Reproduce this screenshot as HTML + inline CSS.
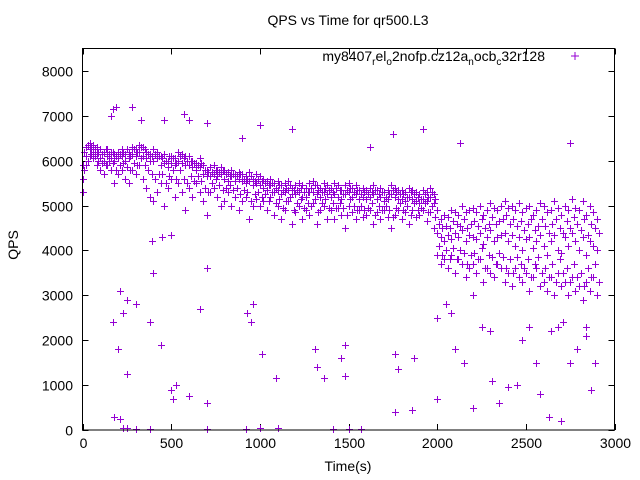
<!DOCTYPE html>
<html><head><meta charset="utf-8"><style>
body{margin:0;background:#fff}
svg{display:block;font-family:"Liberation Sans",sans-serif}
</style></head><body>
<svg id="chart" width="640" height="480" viewBox="0 0 640 480">
<rect width="640" height="480" fill="#fff"/>
<text x="348" y="25" font-size="14" text-anchor="middle">QPS vs Time for qr500.L3</text>
<text x="348" y="471" font-size="14" text-anchor="middle">Time(s)</text>
<text transform="translate(18,245) rotate(-90)" font-size="14" text-anchor="middle">QPS</text>
<g id="axes"></g>
<g id="points"></g>
<g>
<text x="545" y="61" font-size="14" text-anchor="end">my8407<tspan font-size="10" dy="4">r</tspan><tspan dy="-4">el</tspan><tspan font-size="10" dy="4">o</tspan><tspan dy="-4">2nofp.cz12a</tspan><tspan font-size="10" dy="4">n</tspan><tspan dy="-4">ocb</tspan><tspan font-size="10" dy="4">c</tspan><tspan dy="-4">32r128</tspan></text>
<path d="M571 56h8M575 52v8" stroke="#9400d3" stroke-width="1"/>
</g>
<rect x="82.5" y="48.5" width="532" height="381.5" fill="none" stroke="#000"/>
</svg>
<script>
const xTicks=[0,500,1000,1500,2000,2500,3000];
const yTicks=[0,1000,2000,3000,4000,5000,6000,7000,8000];
const step=20;
const qpsUpper=[5900,6300,6400,6350,6300,6250,6200,6250,6200,6150,
6200,6250,6150,6200,6300,6250,6350,6300,6200,6150,
6250,6200,6100,6150,6000,6100,6050,6200,6150,6100,
6100,6000,5950,6050,5900,5800,5850,5900,5800,5850,
5800,5750,5800,5700,5750,5700,5650,5750,5600,5700,
5650,5600,5550,5600,5500,5550,5450,5500,5550,5400,
5450,5500,5450,5400,5500,5550,5450,5400,5500,5450,
5400,5500,5450,5350,5450,5500,5400,5450,5350,5400,
5350,5400,5450,5350,5400,5300,5350,5450,5400,5350,
5350,5300,5400,5350,5300,5250,5350,5300,5400,5250,
4900,4700,4800,4750,4900,4850,4800,5000,4850,4900,
4950,4850,5000,4800,4900,5050,4950,4900,5000,5100,
4950,5000,4900,5050,4850,4950,5000,4800,4900,5050,
5000,4850,4900,5100,4950,4800,5000,4900,5150,4950,
4900,5100,4800,5000,4850,4700];
const qpsUpperMid=[6200,6350,6300,6250,6200,6150,6250,6150,6200,6100,
6150,6200,6250,6100,6250,6200,6300,6250,6150,6100,
6150,6100,6050,6000,6100,6050,5950,6100,6050,6000,
6000,5950,5900,5950,5800,5750,5750,5800,5750,5800,
5700,5650,5700,5650,5700,5600,5600,5650,5550,5600,
5550,5500,5450,5500,5400,5450,5350,5400,5450,5350,
5350,5400,5300,5300,5400,5450,5350,5300,5400,5350,
5300,5400,5350,5250,5350,5400,5300,5350,5250,5300,
5250,5300,5350,5250,5300,5200,5250,5350,5300,5250,
5250,5200,5300,5250,5200,5150,5250,5200,5300,5150,
4600,4500,4550,4500,4650,4600,4550,4700,4500,4600,
4650,4550,4700,4500,4600,4750,4600,4650,4700,4800,
4600,4700,4550,4650,4450,4600,4700,4450,4550,4700,
4550,4400,4600,4700,4500,4400,4650,4500,4750,4600,
4450,4700,4350,4600,4500,4400];
const qpsMiddle=[5600,6100,6250,6200,6150,6050,6000,6100,6050,6000,
6050,6100,6000,6050,6150,6100,6200,6100,6050,6000,
6000,6050,5900,5950,5850,5950,5900,6000,5950,5900,
5900,5850,5800,5850,5700,5650,5650,5700,5650,5700,
5600,5550,5650,5550,5600,5550,5500,5550,5450,5500,
5450,5400,5350,5450,5300,5350,5250,5300,5350,5250,
5250,5300,5200,5200,5300,5300,5250,5200,5300,5250,
5200,5250,5200,5150,5250,5300,5200,5250,5150,5200,
5150,5200,5250,5150,5200,5100,5150,5250,5200,5150,
5150,5100,5200,5150,5100,5050,5150,5100,5200,5050,
4400,4300,4200,4350,4250,4400,4300,4450,4200,4350,
4300,4250,4400,4150,4300,4450,4200,4300,4350,4400,
4200,4350,4100,4300,4000,4250,4300,4050,4200,4350,
4100,3900,4200,4350,4000,3950,4300,4100,4400,4200,
4000,4300,3900,4200,4100,4000];
const qpsLowerMid=[5800,6000,6150,6100,6000,5950,5900,6000,5950,5800,
5900,5950,5850,5800,5950,5900,6050,5900,5800,5700,
5600,5700,5700,5500,5650,5800,5600,5800,5600,5500,
5650,5550,5650,5550,5400,5300,5500,5600,5450,5350,
5400,5450,5350,5400,5250,5350,5300,5100,5250,5300,
5200,5250,5100,5300,5050,5150,4950,5100,5200,4900,
5050,5150,4950,5050,5000,5150,4850,5050,5150,4950,
5050,4950,5050,4950,4800,5150,5000,4900,5000,4900,
4950,5050,4800,5000,4900,5000,4900,4750,4950,5050,
4900,5000,4800,5050,4900,4950,5050,4850,5000,4750,
4100,3900,4000,3800,4050,3800,4000,3950,3700,3900,
3950,3800,4050,3600,3900,3850,3700,3950,3850,3600,
3800,3500,3850,3700,3600,3800,3400,3700,3850,3500,
3600,3400,3700,3300,3800,3500,3600,3300,3700,3400,
3500,3200,3600,3400,3700,3300];
const qpsLower=[5300,5900,6100,6050,5900,5800,5700,5900,5800,5500,
5700,5800,5600,5500,5800,5700,5900,5600,5400,5200,
5100,5300,5500,5000,5400,5600,5200,5500,5300,4900,
5400,5200,5500,5300,5100,4800,5300,5400,5200,5000,
5100,5300,5000,5200,4900,5100,5200,4700,5000,5150,
5000,5100,4900,5200,4800,5000,4700,4900,5100,4600,
4850,5000,4700,4900,4800,5050,4600,4900,5000,4700,
4900,4700,4950,4800,4500,5000,4850,4700,4900,4750,
4800,4900,4600,4850,4700,4900,4750,4500,4800,4900,
4700,4850,4600,4900,4750,4800,4900,4650,4850,4500,
3900,3700,3800,3600,3900,3500,3800,3700,3400,3600,
3700,3500,3800,3300,3600,3500,3400,3700,3600,3300,
3500,3200,3600,3400,3300,3500,3100,3400,3600,3200,
3300,3100,3400,3000,3500,3200,3300,3000,3400,3100,
3200,2900,3300,3100,3400,3000];
const outlierTimes=[170,190,280,160,330,570,600,700,460,1000,900,1180,1750,1920,2130,2750,1620,
390,450,500,210,250,300,230,170,200,250,380,400,440,500,510,530,600,660,700,700,930,950,960,1010,1090,1310,1320,1360,1480,1460,1480,
180,210,230,250,300,380,700,920,1000,1100,1410,1500,1570,
1760,1780,1760,1860,1870,2000,2050,2080,2100,2150,2250,2300,2310,2350,2400,2450,2480,2520,2560,2580,2640,2680,2710,2750,2790,2840,2870,2890,2840,2630,2700,2200,2000,2200];
const outlierQps=[7150,7200,7200,7000,6900,7050,6900,6850,6900,6800,6500,6700,6600,6700,6400,6400,6300,
4200,4300,4350,3100,2900,2800,2600,2400,1800,1250,2400,3500,1900,900,700,1000,750,2700,600,3600,2600,2400,2800,1700,1150,1800,1400,1150,1900,1600,1200,
300,250,50,50,30,30,30,30,50,50,30,30,30,
1700,1350,400,450,1600,700,2800,2600,1800,1500,2300,2200,1100,600,950,1000,2000,2300,1500,800,2200,2300,2400,1500,1800,2300,900,1500,2100,300,200,500,2500,3000];

const X0=82.5,X1=614.5,Y0=430,YT=48.5;
function xs(t){return X0+(t-0)/(3000-0)*(X1-X0);}
function ys(q){return Y0-(q/8500)*(Y0-YT);}
const NS='http://www.w3.org/2000/svg';
const axes=document.getElementById('axes');
for(const t of xTicks){
  const x=Math.round(xs(t))+0.5;
  const p=document.createElementNS(NS,'path');
  p.setAttribute('d',`M${x} ${Y0}v-6M${x} ${YT}v6`);
  p.setAttribute('stroke','#000');
  
  
  axes.appendChild(p);
  const tx=document.createElementNS(NS,'text');
  tx.setAttribute('x',x);tx.setAttribute('y',448);
  tx.setAttribute('font-size','14');tx.setAttribute('text-anchor','middle');
  tx.textContent=t;
  
  
  axes.appendChild(tx);
}
for(const q of yTicks){
  const y=Math.round(ys(q))+0.5;
  const p=document.createElementNS(NS,'path');
  p.setAttribute('d',`M${X0} ${y}h6M${X1} ${y}h-6`);
  p.setAttribute('stroke','#000');
  
  
  axes.appendChild(p);
  const tx=document.createElementNS(NS,'text');
  tx.setAttribute('x',73);tx.setAttribute('y',y+5);
  tx.setAttribute('font-size','14');tx.setAttribute('text-anchor','end');
  tx.textContent=q;
  
  
  axes.appendChild(tx);
}
const pts=document.getElementById('points');
let d='';
function add(t,q){const x=Math.round(xs(t))+0.5,y=Math.round(ys(q))+0.5;d+=`M${x-3.5} ${y}h7M${x} ${y-3.5}v7`;}
for(const arr of [qpsUpper,qpsMiddle,qpsLower]){arr.forEach((q,i)=>add(i*step,q));}
for(const arr of [qpsUpperMid,qpsLowerMid]){arr.forEach((q,i)=>add(i*step+10,q));}
outlierTimes.forEach((t,i)=>add(t,outlierQps[i]));
const path=document.createElementNS(NS,'path');
path.setAttribute('d',d);
path.setAttribute('stroke','#9400d3');
path.setAttribute('fill','none');


pts.appendChild(path);
</script>
</body></html>
